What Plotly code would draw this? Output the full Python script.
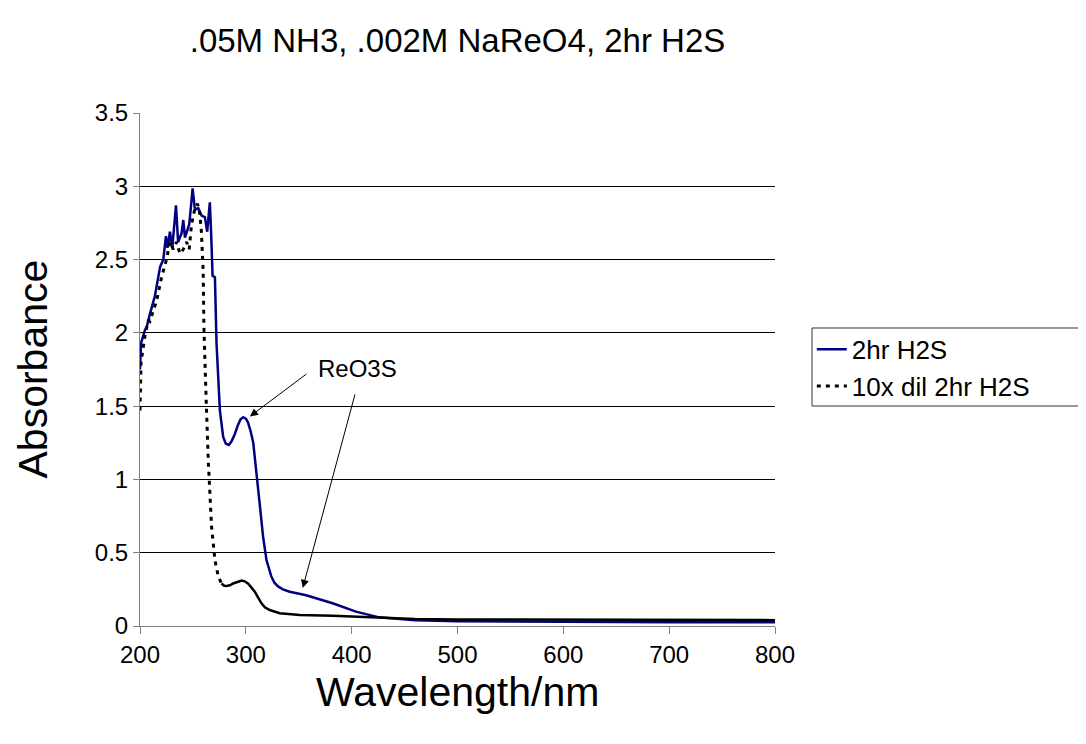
import plotly.graph_objects as go

# ---- data ----
wl_blue = [200, 201, 204.7, 206.3, 209.4, 214, 219, 222, 224.5, 226, 228.3, 230.5, 234, 236,
           239.3, 240.9, 242.5, 244, 246.5, 248, 249.7, 251.9, 255, 258.2, 261.3, 263.5, 266,
           267.3, 268.6, 270.8, 272.3, 275.5, 278.6, 281, 284, 286.5, 289.6, 292.5, 295, 297.5,
           300, 302, 304.5, 307, 310, 313, 316.3, 319.5, 324, 327, 330.5, 335, 341.5, 357, 382,
           404, 426, 442, 460, 500, 550, 600, 700, 800]
abs_blue = [1.75, 1.93, 2.02, 2.04, 2.13, 2.25, 2.45, 2.50, 2.66, 2.58, 2.69, 2.58, 2.87, 2.62,
            2.68, 2.77, 2.65, 2.69, 2.74, 2.85, 2.985, 2.84, 2.85, 2.80, 2.79, 2.69, 2.89,
            2.66, 2.39, 2.38, 1.93, 1.47, 1.29, 1.245, 1.235, 1.26, 1.31, 1.37, 1.41, 1.425,
            1.415, 1.39, 1.33, 1.25, 1.06, 0.84, 0.61, 0.45, 0.34, 0.295, 0.27, 0.25, 0.234,
            0.21, 0.155, 0.098, 0.059, 0.048, 0.04, 0.033, 0.03, 0.028, 0.025, 0.025]

wl_dil = [200, 201, 204.7, 208, 209.4, 215.7, 220.4, 225, 228.3, 231.4, 234.6, 237.7, 240.9,
          244, 246.5, 248.7, 251.9, 254.4, 256.6, 258, 259.7, 260.4, 262.3, 264.5, 267.6,
          270.8, 273.9, 277, 279.5, 281.8, 285, 288, 292, 296, 299, 302, 305, 308.5, 311.5,
          314.8, 318, 322.6, 332, 351, 382, 413, 442, 460, 500, 600, 700, 800]
abs_dil = [1.47, 1.80, 1.98, 2.09, 2.08, 2.22, 2.38, 2.50, 2.62, 2.57, 2.62, 2.54, 2.57,
           2.62, 2.57, 2.74, 2.85, 2.88, 2.81, 2.69, 2.42, 2.04, 1.59, 1.13, 0.68,
           0.45, 0.34, 0.29, 0.275, 0.273, 0.278, 0.29, 0.302, 0.31, 0.305, 0.29, 0.265, 0.234,
           0.195, 0.155, 0.128, 0.109, 0.087, 0.075, 0.07, 0.06, 0.05, 0.048, 0.045, 0.042,
           0.04, 0.04]

series_names = ["2hr H2S", "10x dil 2hr H2S"]
title_text = ".05M NH3, .002M NaReO4, 2hr H2S"
x_title = "Wavelength/nm"
y_title = "Absorbance"
annot_text = "ReO3S"
# arrow (head, tail) in data units
arrow1 = ((303.8, 1.43), (358.5, 1.726))
arrow2 = ((353.8, 0.26), (403.5, 1.59))
label_pos = (405.7, 1.76)

FONT = "Liberation Sans, Arial, sans-serif"
split_wl = 277  # dotted look only on the steep part

fig = go.Figure()
fig.add_trace(go.Scatter(x=wl_blue, y=abs_blue, mode="lines", name=series_names[0],
                         line=dict(color="#000080", width=2.5)))
idx = [i for i, w in enumerate(wl_dil) if w <= split_wl]
idx2 = [i for i, w in enumerate(wl_dil) if w >= split_wl]
fig.add_trace(go.Scatter(x=[wl_dil[i] for i in idx], y=[abs_dil[i] for i in idx], mode="lines",
                         name=series_names[1],
                         line=dict(color="black", width=3, dash="4px,5px")))
fig.add_trace(go.Scatter(x=[wl_dil[i] for i in idx2], y=[abs_dil[i] for i in idx2], mode="lines",
                         name=series_names[1], showlegend=False,
                         line=dict(color="black", width=2.5)))

for (hx, hy), (tx, ty) in (arrow1, arrow2):
    fig.add_annotation(x=hx, y=hy, ax=tx, ay=ty, xref="x", yref="y", axref="x", ayref="y",
                       text="", showarrow=True, arrowhead=2, arrowsize=1.6, arrowwidth=1,
                       arrowcolor="black")
fig.add_annotation(x=label_pos[0], y=label_pos[1], xref="x", yref="y", text=annot_text,
                   showarrow=False, font=dict(family=FONT, size=24, color="black"))

# axis titles as annotations for exact placement
fig.add_annotation(x=0.5, y=0, xref="paper", yref="paper", text=x_title, showarrow=False,
                   xanchor="center", yanchor="middle", yshift=-66,
                   font=dict(family=FONT, size=41, color="black"))
fig.add_annotation(x=0, y=0.5, xref="paper", yref="paper", text=y_title, showarrow=False,
                   xanchor="center", yanchor="middle", xshift=-108, textangle=-90,
                   font=dict(family=FONT, size=41, color="black"))

# legend frame
fig.add_shape(type="rect", xref="paper", yref="paper", x0=1.0583, x1=1.4866,
              y0=0.4288, y1=0.5809, line=dict(color="#333333", width=1),
              fillcolor="white", layer="below")

fig.update_layout(
    width=1078, height=736,
    margin=dict(l=132, r=311, t=105, b=118),
    paper_bgcolor="white", plot_bgcolor="white",
    font=dict(family=FONT, color="black"),
    title=dict(text=title_text, xref="paper", x=0.5, xanchor="center",
               yref="container", y=1 - 32 / 736, yanchor="middle",
               font=dict(family=FONT, size=33, color="black")),
    legend=dict(x=1.058, xanchor="left", y=0.585, yanchor="top",
                borderwidth=0, bgcolor="rgba(0,0,0,0)",
                font=dict(family=FONT, size=26, color="black"),
                tracegroupgap=0, itemwidth=30),
    showlegend=True,
)
fig.update_xaxes(range=[200, 800], dtick=100, tick0=200, showgrid=False, zeroline=False,
                 showline=True, linecolor="#808080", linewidth=1,
                 ticks="outside", ticklen=7, tickcolor="#808080",
                 tickfont=dict(family=FONT, size=24, color="black"))
fig.update_yaxes(range=[0, 3.5], dtick=0.5, tick0=0, showgrid=True, gridcolor="black",
                 gridwidth=1, zeroline=False,
                 showline=True, linecolor="#808080", linewidth=1,
                 ticks="outside", ticklen=6, tickcolor="#808080",
                 tickfont=dict(family=FONT, size=24, color="black"))

fig.write_html("out.html")
